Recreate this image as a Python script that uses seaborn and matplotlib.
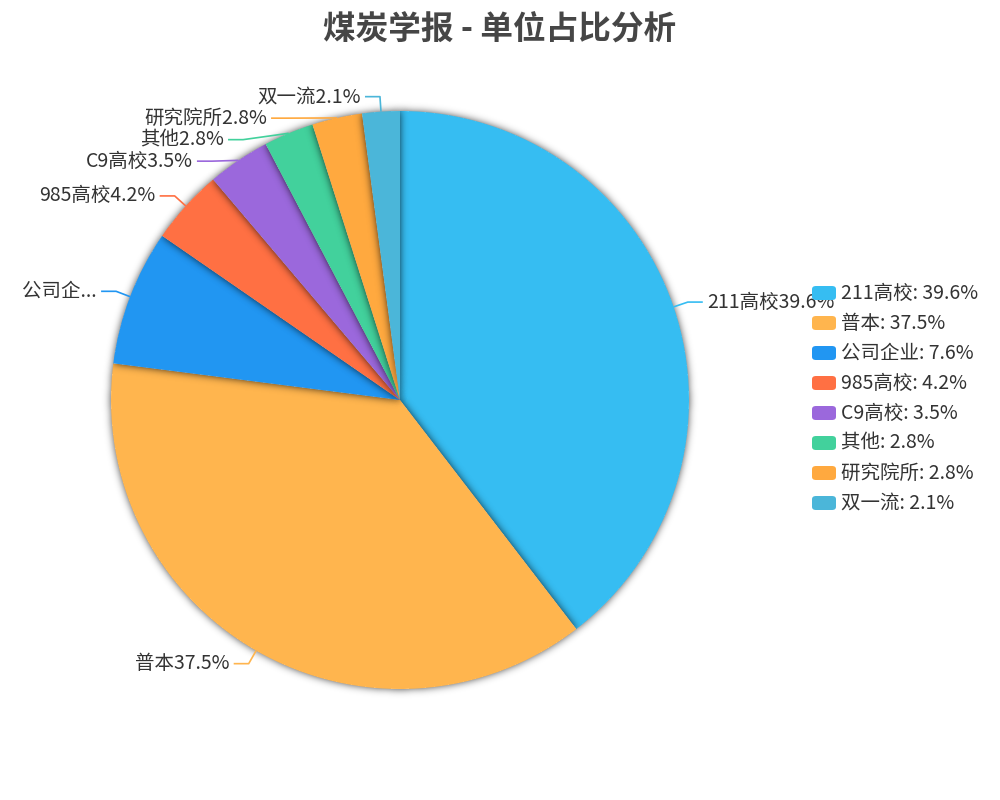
import numpy as np
import matplotlib
matplotlib.use("Agg")
import matplotlib.pyplot as plt
from matplotlib.patches import FancyBboxPatch
import seaborn as sns

# ---- data ----
categories = ["211高校", "普本", "公司企业", "985高校", "C9高校", "其他", "研究院所", "双一流"]
percents = [39.6, 37.5, 7.6, 4.2, 3.5, 2.8, 2.8, 2.1]
pie_labels = ["211高校39.6%", "普本37.5%", "公司企...", "985高校4.2%", "C9高校3.5%",
              "其他2.8%", "研究院所2.8%", "双一流2.1%"]
colors = ["#36BDF2", "#FFB54E", "#2196F2", "#FF7043", "#9B68DC", "#42D19C", "#FFA93F", "#4BB6D9"]
title = "煤炭学报 - 单位占比分析"

sns.set_theme(style="white")
plt.rcParams['font.family'] = ['Noto Sans CJK SC', 'DejaVu Sans']

W, H = 1000, 800
fig = plt.figure(figsize=(10, 8), dpi=100)
PX = 289.0  # pixels per unit radius
ax = fig.add_axes([0, 0, 0.8, 1])
lim = 400 / PX
ax.set_xlim(-lim, lim)
ax.set_ylim(-lim, lim)
ax.set_aspect('equal')
ax.axis('off')

vals = np.array(percents)
wedges, _ = ax.pie(vals, colors=colors, startangle=90, counterclock=False, radius=1,
                   wedgeprops=dict(linewidth=0))
for i, w in enumerate(wedges):
    w.set_zorder(2 + i)

# ---- shadows (blurred per-wedge) ----
N = 800
xs = np.linspace(-lim, lim, N)
XX, YY = np.meshgrid(xs, xs)
RR = np.hypot(XX, YY)
ANG = (np.degrees(np.arctan2(YY, XX)))  # math angle
cw = (90 - ANG) % 360  # clockwise from top
fr = vals / vals.sum()
cum = np.concatenate([[0], np.cumsum(fr)]) * 360
sigma = 4.0
k = np.arange(-15, 16)
g = np.exp(-k**2 / (2 * sigma**2)); g /= g.sum()
def blur(m):
    m = np.apply_along_axis(lambda r: np.convolve(r, g, mode='same'), 1, m)
    m = np.apply_along_axis(lambda r: np.convolve(r, g, mode='same'), 0, m)
    return m
for i in range(len(vals)):
    mask = ((RR <= 1.0) & (cw >= cum[i]) & (cw < cum[i + 1])).astype(float)
    b = blur(mask)
    img = np.zeros((N, N, 4))
    img[..., 3] = np.clip(b * 0.75, 0, 1) * (1 - mask)
    ax.imshow(img, extent=(-lim, lim, -lim, lim), origin='lower', zorder=1.5 + i,
              interpolation='bilinear')
ax.set_xlim(-lim, lim)
ax.set_ylim(-lim, lim)

# ---- labels with leader lines ----
r1 = 304 / PX
len2 = 15 / PX
gap = 21.5 / PX
tgap = 4 / PX
mids = (cum[:-1] + cum[1:]) / 2
math_ang = np.radians(90 - mids)
info = []
for i in range(len(vals)):
    a = math_ang[i]
    side = 1 if np.cos(a) >= 0 else -1
    info.append([i, side, r1 * np.sin(a)])
for side in (1, -1):
    items = sorted([it for it in info if it[1] == side], key=lambda t: -t[2])
    prev = None
    for it in items:
        if prev is not None and it[2] > prev - gap:
            it[2] = prev - gap
        prev = it[2]
for i, side, y in info:
    a = math_ang[i]
    sx, sy = np.cos(a), np.sin(a)
    dx = np.sqrt(max(r1**2 - y**2, 0))
    mx = side * dx
    ex = mx + side * len2
    ax.plot([sx, mx, ex], [sy, y, y], color=colors[i], lw=1.2, zorder=20,
            solid_capstyle='butt')
    ax.text(ex + side * tgap, y, pie_labels[i], ha='left' if side > 0 else 'right',
            va='center', fontsize=14, color='#333333', zorder=21)

# ---- legend ----
top = 293
step = 30
for i, (c, p) in enumerate(zip(categories, percents)):
    yc = top + i * step
    bx = FancyBboxPatch((812 / W, (H - yc - 7) / H), 24 / W, 14 / H,
                        boxstyle="round,pad=0,rounding_size=0.004",
                        transform=fig.transFigure, facecolor=colors[i], edgecolor='none',
                        zorder=30)
    fig.patches.append(bx)
    fig.text(841 / W, (H - yc) / H, f"{c}: {p}%", ha='left', va='center',
             fontsize=14, color='#333333', zorder=31)

fig.text(0.5, 1 - 30 / H, title, ha='center', va='center', fontsize=23.5,
         fontweight='bold', color='#464646')

fig.savefig("out.png", dpi=100, facecolor='white')
